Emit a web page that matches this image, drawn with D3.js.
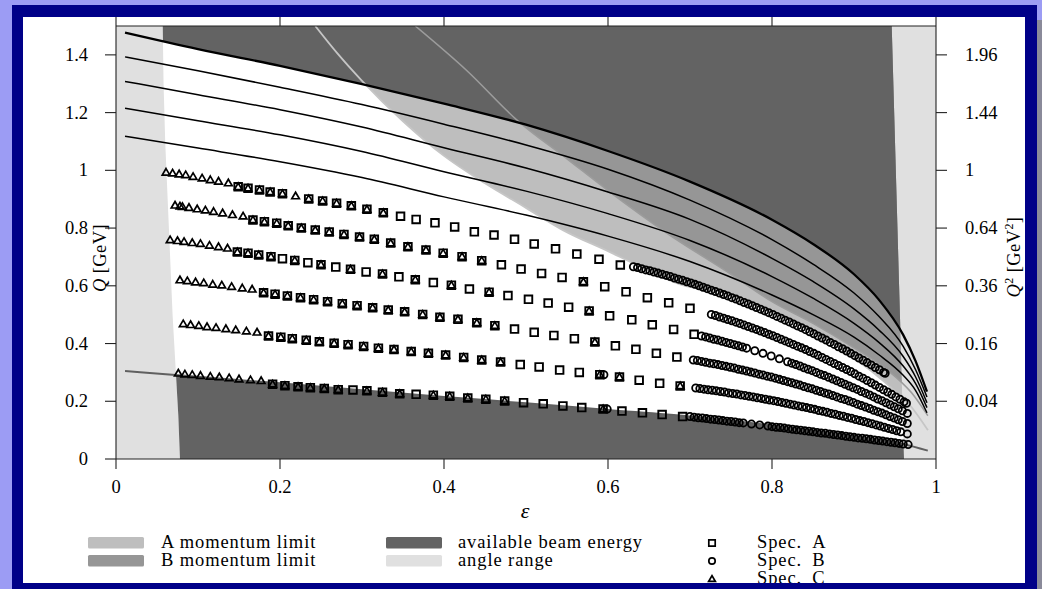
<!DOCTYPE html>
<html><head><meta charset="utf-8">
<script src="https://cdn.jsdelivr.net/npm/d3@7"></script>
<style>body{margin:0;background:#fff}svg{display:block}text{font-family:"Liberation Serif","Times New Roman",serif;fill:#000}</style>
</head><body>
<svg id="c" width="1042" height="589"></svg>
<script>
// ---------- data ----------
const curveEps = [0.011,0.1,0.2,0.3,0.4,0.5,0.6,0.7,0.8,0.85,0.9,0.93,0.96,0.975,0.989];
const beamQ1 = [1.477,1.420,1.362,1.299,1.231,1.158,1.067,0.961,0.829,0.745,0.640,0.553,0.430,0.340,0.233];
const beamQ2 = [1.393,1.345,1.288,1.228,1.160,1.088,1.004,0.897,0.760,0.675,0.575,0.495,0.390,0.310,0.215];
const beamQ3 = [1.308,1.262,1.210,1.150,1.078,1.008,0.925,0.830,0.695,0.615,0.520,0.448,0.355,0.285,0.195];
const beamQ4 = [1.215,1.172,1.123,1.065,0.995,0.928,0.850,0.757,0.632,0.557,0.470,0.405,0.322,0.262,0.178];
const beamQ5 = [1.118,1.077,1.030,0.975,0.908,0.845,0.772,0.684,0.568,0.500,0.422,0.362,0.290,0.238,0.160];
const lowBeamEps = [0.011,0.1,0.2,0.3,0.4,0.5,0.6,0.7,0.8,0.9,0.96,0.99];
const lowBeamQ   = [0.305,0.285,0.262,0.238,0.215,0.193,0.170,0.147,0.116,0.080,0.052,0.029];
const limitAEps = [0.243,0.27,0.30,0.35,0.40,0.45,0.50,0.545,0.60,0.633,0.688,0.75,0.80,0.85,0.90,0.94,0.97,0.99];
const limitAQ   = [1.5,1.405,1.31,1.17,1.05,0.955,0.87,0.793,0.72,0.675,0.605,0.57,0.51,0.44,0.35,0.26,0.18,0.10];
const limitBEps = [0.365,0.428,0.489,0.55,0.60,0.672,0.75,0.80,0.85,0.90,0.94,0.97,0.99];
const limitBQ   = [1.5,1.345,1.174,1.04,0.93,0.782,0.64,0.545,0.47,0.385,0.31,0.23,0.15];
const angleLeftEps  = [0.057,0.058,0.060,0.063,0.066,0.069,0.073,0.076,0.078];
const angleLeftQ    = [1.5,1.3,1.1,0.9,0.7,0.5,0.3,0.15,0];
const angleRightEps = [0.946,0.949,0.952,0.955,0.958,0.961];
const angleRightQ   = [1.5,1.2,0.9,0.6,0.3,0];

// Spec. A (squares), one array per setting row
const specA_eps = [
 [0.149,0.161,0.175,0.188,0.203,0.235,0.252,0.269,0.287,0.306,0.326,0.347,0.366,0.389,0.413,0.437,0.461,0.486,0.510,0.536,0.562,0.589,0.615],
 [0.167,0.181,0.196,0.210,0.226,0.243,0.260,0.278,0.297,0.315,0.335,0.356,0.378,0.399,0.422,0.446,0.470,0.494,0.519,0.544,0.570,0.596,0.622,0.648,0.674,0.700],
 [0.148,0.161,0.174,0.189,0.203,0.218,0.234,0.250,0.268,0.286,0.305,0.325,0.345,0.365,0.387,0.409,0.431,0.455,0.478,0.503,0.527,0.552,0.577,0.602,0.629,0.654,0.680,0.705],
 [0.180,0.194,0.209,0.225,0.241,0.258,0.276,0.294,0.313,0.332,0.352,0.374,0.395,0.417,0.440,0.462,0.486,0.510,0.534,0.559,0.584,0.609,0.634,0.659,0.684],
 [0.186,0.201,0.215,0.232,0.248,0.266,0.283,0.302,0.320,0.339,0.360,0.381,0.402,0.424,0.446,0.469,0.493,0.516,0.541,0.565,0.590,0.614,0.638,0.663,0.688],
 [0.191,0.206,0.222,0.237,0.254,0.271,0.289,0.306,0.325,0.346,0.366,0.387,0.407,0.429,0.451,0.474,0.497,0.521,0.545,0.568,0.594,0.617,0.642,0.666,0.691]
];
const specA_Q = [
 [0.943,0.938,0.932,0.925,0.919,0.901,0.894,0.886,0.877,0.865,0.853,0.841,0.830,0.818,0.804,0.787,0.776,0.761,0.745,0.728,0.710,0.692,0.672],
 [0.828,0.822,0.817,0.808,0.800,0.793,0.786,0.778,0.769,0.761,0.748,0.735,0.724,0.713,0.701,0.687,0.673,0.658,0.643,0.629,0.614,0.597,0.579,0.559,0.541,0.522],
 [0.717,0.713,0.707,0.701,0.694,0.688,0.680,0.673,0.665,0.657,0.648,0.641,0.631,0.621,0.611,0.602,0.589,0.578,0.566,0.553,0.540,0.526,0.513,0.496,0.482,0.465,0.449,0.432],
 [0.576,0.571,0.565,0.559,0.552,0.545,0.538,0.531,0.524,0.516,0.510,0.501,0.491,0.484,0.472,0.462,0.450,0.439,0.428,0.417,0.405,0.392,0.380,0.366,0.353],
 [0.426,0.422,0.417,0.411,0.406,0.401,0.396,0.390,0.384,0.379,0.372,0.366,0.360,0.352,0.343,0.336,0.327,0.319,0.308,0.300,0.292,0.284,0.273,0.262,0.253],
 [0.259,0.254,0.250,0.247,0.244,0.240,0.239,0.236,0.231,0.226,0.224,0.221,0.217,0.211,0.207,0.201,0.195,0.191,0.184,0.178,0.173,0.166,0.160,0.154,0.147]
];
// Spec. C (triangles)
const specC_eps = [
 [0.061,0.069,0.077,0.085,0.094,0.105,0.115,0.125,0.137,0.149,0.161,0.175,0.188,0.203,0.219,0.235,0.252,0.269,0.287,0.306,0.326],
 [0.072,0.078,0.081,0.089,0.099,0.109,0.119,0.130,0.142,0.155,0.167,0.181,0.196,0.210,0.226,0.243,0.260,0.278,0.297,0.315,0.335,0.356,0.378,0.399,0.422,0.446,0.570],
 [0.066,0.075,0.083,0.093,0.103,0.114,0.125,0.136,0.148,0.161,0.174,0.189,0.218,0.250,0.286,0.325,0.365,0.409,0.455,0.577],
 [0.078,0.087,0.097,0.107,0.118,0.129,0.141,0.154,0.166,0.180,0.194,0.209,0.225,0.241,0.258,0.276,0.294,0.313,0.332,0.352,0.374,0.395,0.417,0.440,0.462,0.584],
 [0.082,0.091,0.101,0.111,0.122,0.134,0.146,0.159,0.172,0.186,0.201,0.215,0.232,0.248,0.266,0.283,0.302,0.320,0.339,0.360,0.381,0.402,0.424,0.446,0.469,0.590,0.614,0.688],
 [0.076,0.084,0.093,0.103,0.115,0.126,0.138,0.150,0.164,0.177,0.191,0.206,0.222,0.237,0.254,0.271,0.306,0.325,0.346,0.387,0.407,0.429,0.451,0.474,0.594]
];
const specC_Q = [
 [0.993,0.990,0.987,0.984,0.978,0.973,0.967,0.962,0.956,0.943,0.938,0.932,0.925,0.919,0.911,0.901,0.894,0.886,0.877,0.865,0.853],
 [0.879,0.876,0.874,0.871,0.866,0.862,0.857,0.852,0.846,0.841,0.828,0.822,0.817,0.808,0.800,0.793,0.786,0.778,0.769,0.761,0.748,0.735,0.724,0.713,0.701,0.687,0.614],
 [0.759,0.756,0.753,0.749,0.746,0.740,0.735,0.730,0.717,0.713,0.707,0.701,0.688,0.673,0.657,0.641,0.621,0.602,0.578,0.513],
 [0.620,0.617,0.613,0.610,0.605,0.602,0.597,0.592,0.588,0.576,0.571,0.565,0.559,0.552,0.545,0.538,0.531,0.524,0.516,0.510,0.501,0.491,0.484,0.472,0.462,0.405],
 [0.468,0.465,0.462,0.458,0.455,0.451,0.447,0.443,0.439,0.426,0.422,0.417,0.411,0.406,0.401,0.396,0.390,0.384,0.379,0.372,0.366,0.360,0.352,0.343,0.336,0.292,0.284,0.253],
 [0.297,0.294,0.292,0.289,0.286,0.284,0.281,0.277,0.274,0.271,0.259,0.254,0.250,0.247,0.244,0.240,0.236,0.231,0.226,0.221,0.217,0.211,0.207,0.201,0.173]
];
// Spec. B (circles)
const specB_eps = [
 [0.631,0.636,0.641,0.646,0.651,0.656,0.661,0.666,0.671,0.676,0.681,0.686,0.691,0.696,0.701,0.706,0.711,0.716,0.721,0.726,0.731,0.736,0.741,0.746,0.751,0.756,0.761,0.766,0.771,0.776,0.781,0.786,0.791,0.796,0.801,0.806,0.811,0.816,0.821,0.826,0.831,0.836,0.841,0.846,0.851,0.856,0.861,0.866,0.871,0.876,0.881,0.886,0.891,0.896,0.901,0.906,0.911,0.916,0.921,0.926,0.931,0.936,0.938],
 [0.726,0.731,0.736,0.741,0.746,0.751,0.756,0.761,0.766,0.771,0.776,0.781,0.786,0.791,0.796,0.801,0.806,0.811,0.816,0.821,0.826,0.831,0.836,0.841,0.846,0.851,0.856,0.861,0.866,0.871,0.876,0.881,0.886,0.891,0.896,0.901,0.906,0.911,0.916,0.921,0.926,0.931,0.936,0.941,0.946,0.951,0.956,0.961,0.964],
 [0.714,0.719,0.724,0.729,0.734,0.739,0.744,0.749,0.754,0.759,0.764,0.769,0.779,0.789,0.799,0.809,0.819,0.824,0.829,0.834,0.839,0.844,0.849,0.854,0.859,0.864,0.869,0.874,0.879,0.884,0.889,0.894,0.899,0.904,0.909,0.914,0.919,0.924,0.929,0.934,0.939,0.944,0.949,0.954,0.959,0.965],
 [0.704,0.709,0.714,0.719,0.724,0.729,0.734,0.739,0.744,0.749,0.754,0.759,0.764,0.769,0.774,0.779,0.784,0.789,0.794,0.799,0.804,0.809,0.814,0.819,0.824,0.829,0.834,0.839,0.844,0.849,0.854,0.859,0.864,0.869,0.874,0.879,0.884,0.889,0.894,0.899,0.904,0.909,0.914,0.919,0.924,0.929,0.934,0.939,0.944,0.949,0.954,0.959,0.965],
 [0.707,0.712,0.717,0.722,0.727,0.732,0.737,0.742,0.747,0.752,0.757,0.762,0.767,0.772,0.777,0.782,0.787,0.792,0.797,0.802,0.807,0.812,0.817,0.822,0.827,0.832,0.837,0.842,0.847,0.852,0.857,0.862,0.867,0.872,0.877,0.882,0.887,0.892,0.897,0.902,0.907,0.912,0.917,0.922,0.927,0.932,0.937,0.942,0.947,0.952,0.957,0.965,0.595],
 [0.700,0.705,0.710,0.715,0.720,0.725,0.730,0.735,0.740,0.745,0.750,0.755,0.760,0.765,0.775,0.785,0.795,0.800,0.805,0.810,0.815,0.820,0.825,0.830,0.835,0.840,0.845,0.850,0.855,0.860,0.865,0.870,0.875,0.880,0.885,0.890,0.895,0.900,0.905,0.910,0.915,0.920,0.925,0.930,0.935,0.940,0.945,0.950,0.955,0.960,0.966,0.599]
];
const specB_Q = [
 [0.666,0.663,0.659,0.655,0.652,0.648,0.644,0.640,0.636,0.632,0.627,0.623,0.619,0.614,0.610,0.605,0.600,0.595,0.590,0.585,0.580,0.575,0.570,0.565,0.559,0.554,0.548,0.542,0.537,0.531,0.525,0.519,0.513,0.507,0.501,0.494,0.488,0.481,0.475,0.468,0.461,0.455,0.448,0.441,0.434,0.426,0.419,0.412,0.404,0.397,0.389,0.382,0.374,0.366,0.358,0.350,0.342,0.334,0.326,0.317,0.309,0.300,0.297],
 [0.501,0.497,0.492,0.488,0.483,0.479,0.474,0.469,0.464,0.459,0.454,0.449,0.443,0.438,0.432,0.427,0.421,0.415,0.409,0.403,0.397,0.391,0.385,0.379,0.372,0.366,0.359,0.352,0.345,0.338,0.331,0.324,0.317,0.310,0.303,0.295,0.287,0.280,0.272,0.264,0.256,0.248,0.240,0.232,0.224,0.215,0.207,0.198,0.193],
 [0.426,0.423,0.419,0.415,0.412,0.408,0.404,0.400,0.396,0.392,0.388,0.384,0.375,0.366,0.357,0.347,0.337,0.332,0.327,0.322,0.316,0.311,0.306,0.300,0.294,0.289,0.283,0.277,0.271,0.265,0.259,0.253,0.247,0.241,0.234,0.228,0.222,0.215,0.208,0.202,0.195,0.188,0.181,0.174,0.167,0.158],
 [0.343,0.341,0.338,0.335,0.332,0.330,0.327,0.324,0.321,0.318,0.315,0.311,0.308,0.305,0.301,0.298,0.294,0.291,0.287,0.284,0.280,0.276,0.272,0.268,0.264,0.260,0.256,0.251,0.247,0.243,0.238,0.234,0.229,0.225,0.220,0.215,0.210,0.206,0.201,0.196,0.190,0.185,0.180,0.175,0.169,0.164,0.159,0.153,0.147,0.142,0.136,0.130,0.123],
 [0.246,0.244,0.242,0.240,0.238,0.236,0.234,0.232,0.229,0.227,0.225,0.222,0.220,0.217,0.215,0.212,0.210,0.207,0.204,0.202,0.199,0.196,0.193,0.190,0.187,0.184,0.181,0.178,0.175,0.172,0.168,0.165,0.162,0.158,0.155,0.151,0.148,0.144,0.141,0.137,0.133,0.130,0.126,0.122,0.118,0.114,0.110,0.106,0.102,0.098,0.094,0.087,0.292],
 [0.147,0.145,0.143,0.142,0.140,0.138,0.137,0.135,0.133,0.131,0.130,0.128,0.126,0.125,0.121,0.118,0.114,0.112,0.110,0.109,0.107,0.105,0.103,0.101,0.100,0.098,0.096,0.094,0.092,0.090,0.089,0.087,0.085,0.083,0.081,0.079,0.077,0.075,0.073,0.072,0.070,0.068,0.066,0.064,0.062,0.060,0.058,0.056,0.054,0.052,0.050,0.173]
];
const xTicks = [0,0.2,0.4,0.6,0.8,1];
const xTickLabels = ["0","0.2","0.4","0.6","0.8","1"];
const yTicks = [0,0.2,0.4,0.6,0.8,1,1.2,1.4];
const yTickLabels = ["0","0.2","0.4","0.6","0.8","1","1.2","1.4"];
const y2Ticks = [0.2,0.4,0.6,0.8,1,1.2,1.4];
const y2TickLabels = ["0.04","0.16","0.36","0.64","1","1.44","1.96"];
const areaLegendLabels = ["A momentum limit","B momentum limit","available beam energy","angle range"];
const areaLegendColors = ["#bebebe","#969696","#636363","#e0e0e0"];
const specLegendLabels = ["Spec.\u2002A","Spec.\u2002B","Spec.\u2002C"];

// ---------- drawing ----------
const svg = d3.select("#c");
const W = 1042, H = 589;
const x = d3.scaleLinear().domain([0,1]).range([116,936]);
const y = d3.scaleLinear().domain([0,1.5]).range([459,26]);
const defs = svg.append("defs");

// page frame
svg.append("rect").attr("width",W).attr("height",H).attr("fill","#9c9cf4");
svg.append("rect").attr("x",1037).attr("y",20).attr("width",5).attr("height",H).attr("fill","#8a8a9a");
svg.append("rect").attr("x",12).attr("y",5).attr("width",1025).attr("height",600).attr("fill","#000088");
svg.append("rect").attr("x",23).attr("y",17).attr("width",1002).attr("height",566).attr("fill","#ffffff");
defs.append("clipPath").attr("id","page").append("rect").attr("x",23).attr("y",17).attr("width",1002).attr("height",566);
const page = svg.append("g").attr("clip-path","url(#page)");

defs.append("clipPath").attr("id","plot").append("rect").attr("x",116).attr("y",26).attr("width",820).attr("height",433);
const insidePts = d3.zip(angleLeftEps,angleLeftQ).concat(d3.zip(angleRightEps,angleRightQ).reverse());
const polyPath = pts => "M" + pts.map(p => x(p[0]) + "," + y(p[1])).join("L") + "Z";
defs.append("clipPath").attr("id","inside").append("path").attr("d",polyPath(insidePts));

const plot = page.append("g").attr("clip-path","url(#plot)");
plot.append("rect").attr("x",116).attr("y",26).attr("width",820).attr("height",433).attr("fill","#e0e0e0");
plot.append("path").attr("d",polyPath(insidePts)).attr("fill","#ffffff");

const smooth = d3.line().x(d => x(d[0])).y(d => y(d[1])).curve(d3.curveMonotoneX);
const inside = plot.append("g").attr("clip-path","url(#inside)");
function regionAbove(eps, q){
  const pts = d3.zip(eps,q);
  const last = pts[pts.length-1], first = pts[0];
  return smooth(pts) + `L${x(1.05)},${y(last[1])}L${x(1.05)},${y(1.7)}L${x(first[0]-0.05)},${y(1.7)}L${x(first[0]-0.05)},${y(first[1])}Z`;
}
inside.append("path").attr("d",regionAbove(limitAEps,limitAQ)).attr("fill",areaLegendColors[0]);
inside.append("path").attr("d",regionAbove(limitBEps,limitBQ)).attr("fill",areaLegendColors[1]);
inside.append("path").attr("d",regionAbove(curveEps,beamQ1)).attr("fill",areaLegendColors[2]);
{
  const pts = d3.zip(lowBeamEps,lowBeamQ);
  const last = pts[pts.length-1], first = pts[0];
  inside.append("path").attr("d", smooth(pts) + `L${x(1.05)},${y(last[1])}L${x(1.05)},${y(-0.2)}L${x(-0.05)},${y(-0.2)}L${x(-0.05)},${y(first[1])}Z`).attr("fill",areaLegendColors[2]);
}
// limit boundary lines
plot.append("path").attr("d",smooth(d3.zip(limitAEps,limitAQ))).attr("fill","none").attr("stroke","#c6c6c6").attr("stroke-width",1.8);
plot.append("path").attr("d",smooth(d3.zip(limitBEps,limitBQ))).attr("fill","none").attr("stroke","#9c9c9c").attr("stroke-width",1.6);
plot.append("path").attr("d",smooth(d3.zip(lowBeamEps,lowBeamQ))).attr("fill","none").attr("stroke","#606060").attr("stroke-width",2);
// beam energy curves
[beamQ1,beamQ2,beamQ3,beamQ4,beamQ5].forEach((q,i) => {
  plot.append("path").attr("d",smooth(d3.zip(curveEps,q))).attr("fill","none")
    .attr("stroke","#000").attr("stroke-width", i===0 ? 2.3 : 1.5);
});

// axes
const ax = page.append("g").attr("stroke","#222").attr("stroke-width",1.1).attr("fill","none");
ax.append("line").attr("x1",116).attr("x2",936).attr("y1",26).attr("y2",26);
ax.append("line").attr("x1",116).attr("x2",936).attr("y1",459).attr("y2",459);
ax.append("line").attr("x1",116).attr("x2",116).attr("y1",26).attr("y2",459);
ax.append("line").attr("x1",936).attr("x2",936).attr("y1",26).attr("y2",459);
xTicks.forEach(t => {
  ax.append("line").attr("x1",x(t)).attr("x2",x(t)).attr("y1",459).attr("y2",469);
  ax.append("line").attr("x1",x(t)).attr("x2",x(t)).attr("y1",16).attr("y2",26);
});
yTicks.forEach(t => ax.append("line").attr("x1",105).attr("x2",116).attr("y1",y(t)).attr("y2",y(t)));
y2Ticks.forEach(t => ax.append("line").attr("x1",936).attr("x2",947).attr("y1",y(t)).attr("y2",y(t)));

const fs = 18.5;
xTicks.forEach((t,i) => page.append("text").attr("x",x(t)).attr("y",493).attr("text-anchor","middle").attr("font-size",fs).text(xTickLabels[i]));
yTicks.forEach((t,i) => page.append("text").attr("x",88).attr("y",y(t)+6).attr("text-anchor","end").attr("font-size",fs).text(yTickLabels[i]));
y2Ticks.forEach((t,i) => page.append("text").attr("x",965).attr("y",y(t)+6).attr("text-anchor","start").attr("font-size",fs).text(y2TickLabels[i]));

page.append("text").attr("x",525).attr("y",518).attr("text-anchor","middle").attr("font-size",22).attr("font-style","italic").text("\u03b5");
{
  const t = page.append("text").attr("transform","translate(106,258) rotate(-90)").attr("text-anchor","middle").attr("font-size",fs).attr("letter-spacing",0.4);
  t.append("tspan").attr("font-style","italic").text("Q");
  t.append("tspan").text(" [GeV]");
  const t2 = page.append("text").attr("transform","translate(1020,257) rotate(-90)").attr("text-anchor","middle").attr("font-size",fs).attr("letter-spacing",0.4);
  t2.append("tspan").attr("font-style","italic").text("Q");
  t2.append("tspan").attr("font-size",12).attr("dy",-7).text("2");
  t2.append("tspan").attr("dy",7).text(" [GeV");
  t2.append("tspan").attr("font-size",12).attr("dy",-7).text("2");
  t2.append("tspan").attr("dy",7).text("]");
}

// markers
const sqPath = s => `M${-s},${-s}h${2*s}v${2*s}h${-2*s}Z`;
const triPath = s => `M0,${-s}L${s},${s*0.72}L${-s},${s*0.72}Z`;
const marks = page.append("g").attr("clip-path","url(#plot)").attr("fill","none").attr("stroke","#000");
specA_eps.forEach((row,r) => d3.zip(row,specA_Q[r]).forEach(d => {
  marks.append("path").attr("d",sqPath(3.8)).attr("transform",`translate(${x(d[0])},${y(d[1])})`).attr("stroke-width",1.9);
}));
specC_eps.forEach((row,r) => d3.zip(row,specC_Q[r]).forEach(d => {
  marks.append("path").attr("d",triPath(3.8)).attr("transform",`translate(${x(d[0])},${y(d[1])})`).attr("stroke-width",1.7);
}));
specB_eps.forEach((row,r) => d3.zip(row,specB_Q[r]).forEach(d => {
  marks.append("circle").attr("cx",x(d[0])).attr("cy",y(d[1])).attr("r",3.6).attr("stroke-width",1.8);
}));

// legend
const legFs = 18.5, legLs = 0.9;
const legX = [88,386], legTX = [161,458], legY = [537,555], legB = [548,566];
areaLegendLabels.forEach((lab,i) => {
  const c = Math.floor(i/2), r = i%2;
  page.append("rect").attr("x",legX[c]).attr("y",legY[r]).attr("width",56).attr("height",11.5).attr("rx",1.5).attr("fill",areaLegendColors[i]);
  page.append("text").attr("x",legTX[c]).attr("y",legB[r]).attr("font-size",legFs).attr("letter-spacing",legLs).text(lab);
});
const specY = [543,561,579], specB = [548,566,584];
specLegendLabels.forEach((lab,i) => {
  const g = page.append("g").attr("transform",`translate(712,${specY[i]})`).attr("fill","none").attr("stroke","#000").attr("stroke-width",1.7);
  if (i===0) g.append("path").attr("d",sqPath(3.2));
  else if (i===1) g.append("circle").attr("r",3.2);
  else g.append("path").attr("d",triPath(3.4));
  page.append("text").attr("x",757).attr("y",specB[i]).attr("font-size",legFs).attr("letter-spacing",legLs).text(lab);
});
</script>
</body></html>
